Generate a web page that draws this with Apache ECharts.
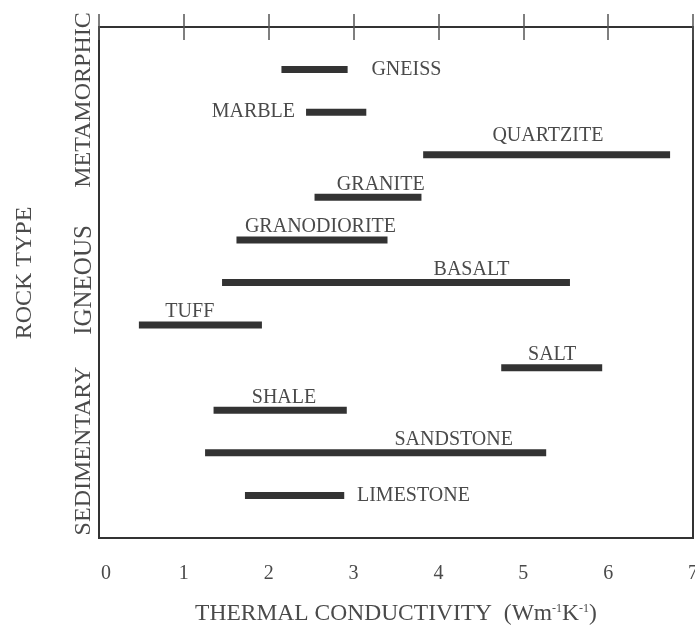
<!DOCTYPE html>
<html>
<head>
<meta charset="utf-8">
<script src="https://cdn.jsdelivr.net/npm/echarts@6/dist/echarts.min.js"></script>
<style>
  html, body { margin: 0; padding: 0; background: #fff; }
  #chart { width: 695px; height: 626px; }
</style>
</head>
<body>
<div id="chart"></div>
<script>
// Thermal conductivity ranges by rock type (W m^-1 K^-1)
const rocks = ['GNEISS', 'MARBLE', 'QUARTZITE', 'GRANITE', 'GRANODIORITE', 'BASALT',
               'TUFF', 'SALT', 'SHALE', 'SANDSTONE', 'LIMESTONE'];
const lowK  = [2.15, 2.44, 3.82, 2.54, 1.62, 1.45, 0.47, 4.74, 1.35, 1.25, 1.72];
const highK = [2.93, 3.15, 6.73, 3.80, 3.40, 5.55, 1.92, 5.93, 2.92, 5.27, 2.89];
// where each name sits along the conductivity axis
const labelAt   = [3.21, 2.31, 5.29, 3.32, 2.61, 4.39, 1.07, 5.34, 2.18, 4.18, 3.04];
const labelSide = ['right', 'left', 'above', 'above', 'above', 'above',
                   'above', 'above', 'above', 'above', 'right'];
const xTicks = [0, 1, 2, 3, 4, 5, 6, 7];
const groups = ['METAMORPHIC', 'IGNEOUS', 'SEDIMENTARY'];

const FONT = '"Liberation Serif", "DejaVu Serif", serif';
const TEXT = '#4a4a4a';
const INK = '#333333';

const rows = rocks.map((name, i) => [i + 1, lowK[i], highK[i], labelAt[i], labelSide[i], name]);

const chart = echarts.init(document.getElementById('chart'), null, { renderer: 'canvas' });

chart.setOption({
  animation: false,
  backgroundColor: '#fff',
  grid: {
    left: 99, right: 2, top: 27, bottom: 88,
    containLabel: false, outerBoundsMode: 'none',
    show: true, borderColor: INK, borderWidth: 2, backgroundColor: 'transparent'
  },
  xAxis: [{
    type: 'value', min: xTicks[0], max: xTicks[xTicks.length - 1], interval: 1,
    position: 'bottom',
    axisLine: { show: true, lineStyle: { color: INK, width: 2 } },
    axisTick: { show: true, inside: true, length: 13, lineStyle: { color: '#555', width: 1.5 } },
    axisLabel: {
      color: TEXT, fontFamily: FONT, fontSize: 20, margin: 26,
      formatter: v => (v === 0 ? '{z|0}' : String(v)),
      rich: { z: { color: TEXT, fontFamily: FONT, fontSize: 20, padding: [0, 0, 0, 14] } }
    },
    splitLine: { show: false },
    name: 'THERMAL CONDUCTIVITY  (Wm{s|-1}K{s|-1})',
    nameLocation: 'middle', nameGap: 64,
    nameTextStyle: {
      color: TEXT, fontFamily: FONT, fontSize: 23.5,
      rich: { s: { fontFamily: FONT, fontSize: 12, color: TEXT, padding: [0, 0, 10, 0] } }
    }
  }, {
    type: 'value', min: xTicks[0], max: xTicks[xTicks.length - 1], interval: 1,
    position: 'top',
    axisLine: { show: true, lineStyle: { color: INK, width: 2 } },
    axisTick: { show: true, inside: true, length: 13, lineStyle: { color: '#555', width: 1.5 } },
    axisLabel: { show: false },
    splitLine: { show: false }
  }],
  yAxis: {
    type: 'value', min: 0, max: 12, inverse: true,
    axisLine: { show: true, lineStyle: { color: INK, width: 2 } },
    axisTick: { show: false }, axisLabel: { show: false }, splitLine: { show: false }
  },
  graphic: [
    { type: 'text', x: 25, y: 273, rotation: Math.PI / 2,
      style: { text: 'ROCK TYPE', fill: TEXT, font: '24px ' + FONT, textAlign: 'center', textVerticalAlign: 'middle' } },
    { type: 'text', x: 84, y: 100, rotation: Math.PI / 2,
      style: { text: groups[0], fill: TEXT, font: '24px ' + FONT, textAlign: 'center', textVerticalAlign: 'middle' } },
    { type: 'text', x: 84, y: 280, rotation: Math.PI / 2,
      style: { text: groups[1], fill: TEXT, font: '25px ' + FONT, textAlign: 'center', textVerticalAlign: 'middle' } },
    { type: 'text', x: 84, y: 451, rotation: Math.PI / 2,
      style: { text: groups[2], fill: TEXT, font: '24px ' + FONT, textAlign: 'center', textVerticalAlign: 'middle' } }
  ],
  series: [{
    type: 'custom',
    coordinateSystem: 'cartesian2d',
    encode: { x: [1, 2], y: 0 },
    data: rows,
    renderItem: function (params, api) {
      const row = api.value(0);
      const a = api.coord([api.value(1), row]);
      const b = api.coord([api.value(2), row]);
      const t = api.coord([api.value(3), row]);
      const side = labelSide[params.dataIndex];
      const name = rocks[params.dataIndex];
      const h = 7;
      let tx = t[0], ty = t[1], align = 'center';
      if (side === 'above') { ty = a[1] - (name === 'QUARTZITE' ? 19 : 13); }
      else if (side === 'right') { align = 'left'; }
      else { align = 'right'; }
      return {
        type: 'group',
        children: [{
          type: 'rect',
          shape: { x: a[0], y: a[1] - h / 2, width: b[0] - a[0], height: h },
          style: { fill: INK }
        }, {
          type: 'text',
          x: tx, y: ty,
          style: {
            text: name, fill: TEXT, font: '20px ' + FONT,
            textAlign: align, textVerticalAlign: 'middle'
          }
        }]
      };
    }
  }]
});
</script>
</body>
</html>
